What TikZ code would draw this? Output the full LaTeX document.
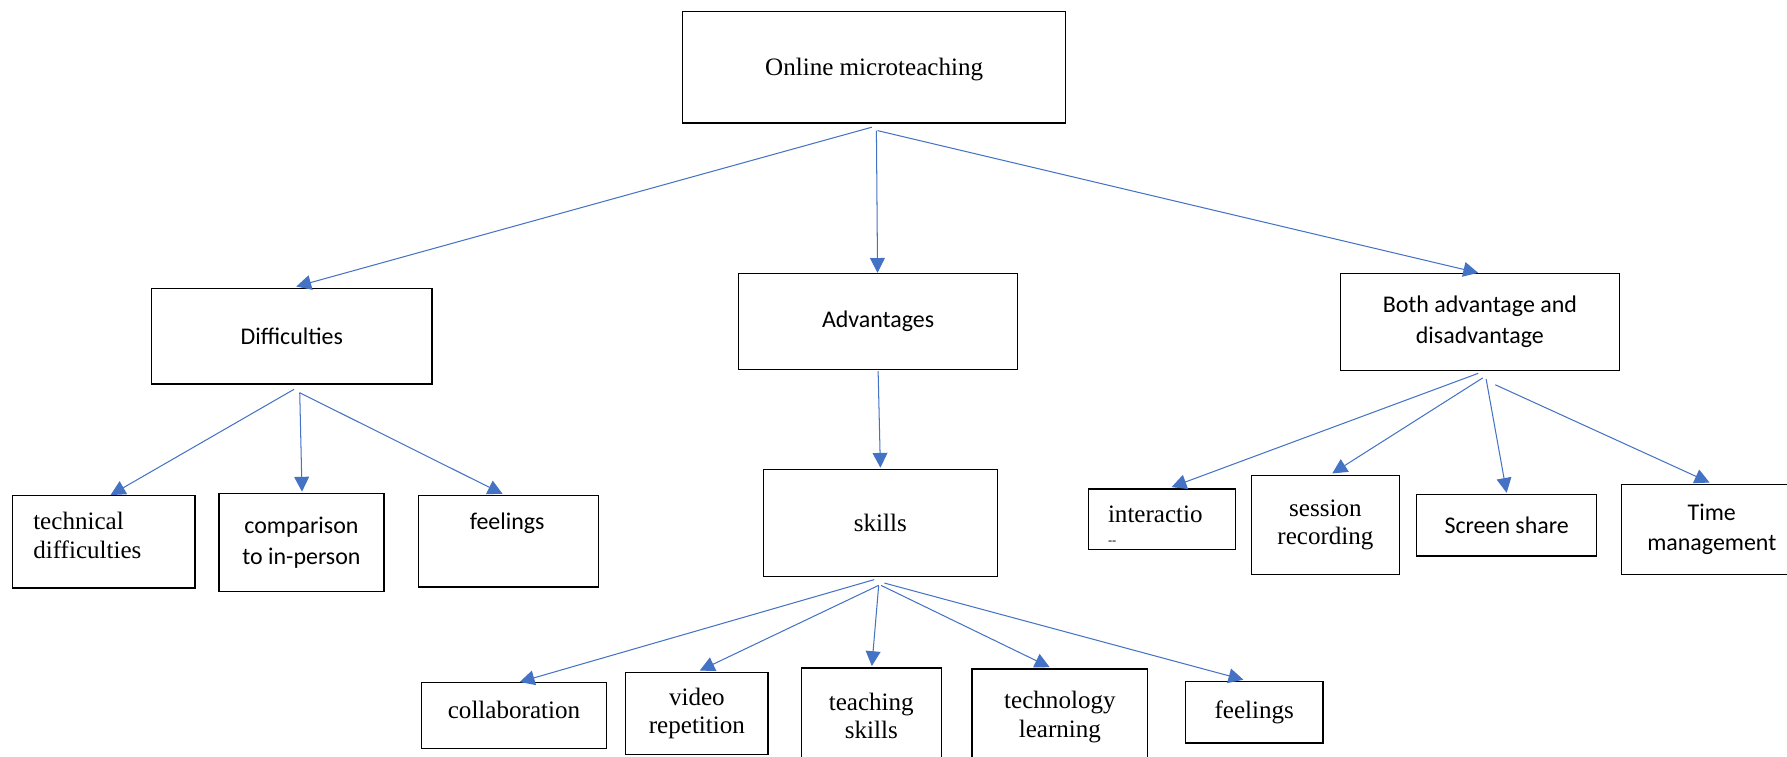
\documentclass[tikz,border=0pt]{standalone}
\usepackage{fontspec}
\setmainfont{Liberation Serif}
\newfontfamily\calib{Carlito}
\usetikzlibrary{arrows.meta,calc}
\definecolor{arrowblue}{HTML}{4472C4}
\begin{document}
\begin{tikzpicture}[x=1pt,y=-1pt,
  box/.style={draw=black, line width=1.2pt, inner sep=0pt, align=center},
  serif/.style={font=\fontsize{22}{25}\selectfont},
  sans/.style={font=\calib\fontsize{21}{27}\selectfont},
  link/.style={draw=arrowblue, line width=0.9pt, -{Triangle[length=13pt,width=13pt]}}]
\useasboundingbox (0,0) rectangle (1568,664);
\clip (0,0) rectangle (1568,664);
\fill[white] (0,0) rectangle (1568,664);
% level 0
\node[box, serif, minimum width=336, minimum height=98, text depth=0pt] (top) at (767,59) {Online microteaching};
% level 1
\node[box, sans, minimum width=246, minimum height=84] (diff) at (256,295) {Difficulties};
\node[box, sans, minimum width=245, minimum height=84] (adv) at (770.5,282) {Advantages};
\node[box, sans, minimum width=245, minimum height=85] (both) at (1298.5,282.5) {Both advantage and\\disadvantage};
% difficulties children
\node[box, minimum width=160, minimum height=81] (tech) at (91,475.5) {};
\node[serif, anchor=west, align=left, inner sep=0pt] (techtxt) at (29,470) {technical\\difficulties};
\node[box, sans, minimum width=145, minimum height=86] (comp) at (264.5,476) {comparison\\to in-person};
\node[box, minimum width=158, minimum height=80] (feelA) at (446,475) {};
\node[sans, inner sep=0pt] (feelAtxt) at (445,459) {feelings};
% advantages child
\node[box, serif, minimum width=205, minimum height=94] (skills) at (772.5,459) {skills};
% both children
\node[box, minimum width=129, minimum height=53] (inter) at (1019.5,455.5) {};
\node[serif, anchor=west, inner sep=0pt] (intertxt) at (972,451) {interactio};
\node[font=\fontsize{11}{11}\selectfont, anchor=west, inner sep=0pt] (interdash) at (972,476) {-{}-};
\node[box, serif, minimum width=130, minimum height=87] (sess) at (1163,460.5) {session\\recording};
\node[box, sans, minimum width=158, minimum height=54] (screen) at (1322,461) {Screen share};
\node[box, sans, minimum width=158, minimum height=79] (time) at (1502,464.5) {Time\\management};
% skills children
\node[box, minimum width=162, minimum height=58] (coll) at (451,628) {};
\node[serif, inner sep=0pt] (colltxt) at (451,623) {collaboration};
\node[box, serif, minimum width=125, minimum height=72] (video) at (611.5,626) {video\\repetition};
\node[box, serif, minimum width=123, minimum height=84] (teach) at (764.5,628) {teaching\\skills};
\node[box, serif, minimum width=154, minimum height=84] (techn) at (930,629) {technology\\learning};
\node[box, serif, minimum width=121, minimum height=54] (feelB) at (1100.5,625) {feelings};
% connectors
\draw[link] ($(top.south)+(-2,3)$) -- ($(diff.north)+(4,-1)$);
\draw[link] ($(top.south)+(2,6)$) -- ($(adv.north)+(-0.5,0)$);
\draw[link] ($(top.south)+(3,6)$) -- ($(both.north)+(-1.5,0)$);
\draw[link] ($(diff.south)+(2,4)$) -- ($(tech.north)+(6,0)$);
\draw[link] ($(diff.south)+(7,7)$) -- ($(comp.north)+(0.5,-1)$);
\draw[link] ($(diff.south)+(7,7)$) -- ($(feelA.north)+(-5,-1)$);
\draw[link] ($(adv.south)+(0,1)$) -- ($(skills.north)+(0,-1)$);
\draw[link] ($(both.south)+(-1.5,2)$) -- ($(inter.north)+(8.5,-1)$);
\draw[link] ($(both.south)+(2.5,6)$) -- ($(sess.north)+(6,-1)$);
\draw[link] ($(both.south)+(5.5,7)$) -- ($(screen.north)+(0,-1)$);
\draw[link] ($(both.south)+(13.5,12)$) -- ($(time.north)+(-2,-1)$);
\draw[link] ($(skills.south)+(-5.5,2)$) -- ($(coll.north)+(5,0)$);
\draw[link] ($(skills.south)+(-1.5,7)$) -- ($(video.north)+(2.5,-1)$);
\draw[link] ($(skills.south)+(-1.5,7)$) -- ($(teach.north)+(0.5,-1)$);
\draw[link] ($(skills.south)+(0.5,7)$) -- ($(techn.north)+(-9,-1)$);
\draw[link] ($(skills.south)+(3.5,5)$) -- ($(feelB.north)+(-9.5,-1)$);
\end{tikzpicture}
\end{document}
